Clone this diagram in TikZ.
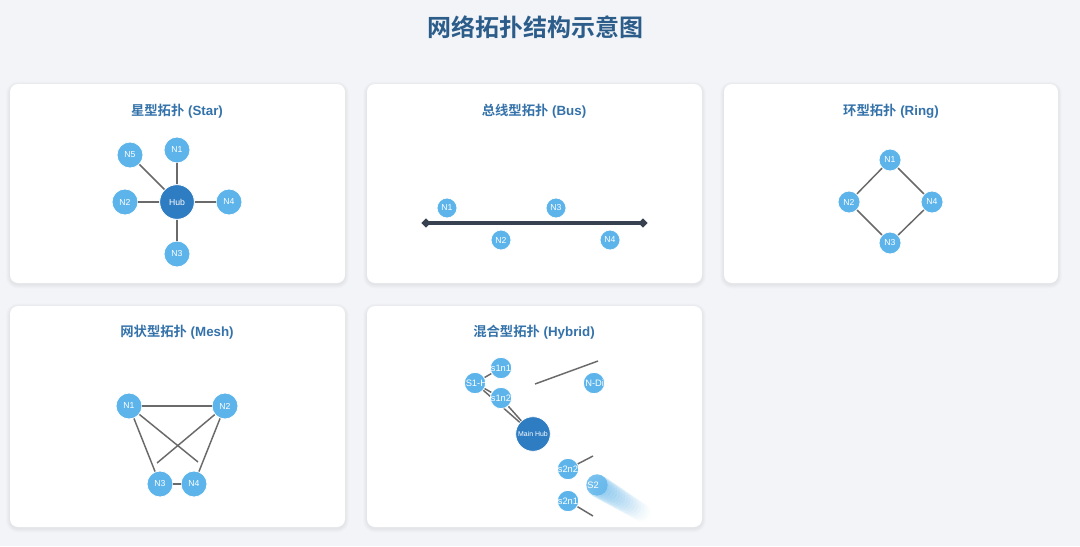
\documentclass[tikz,border=0pt]{standalone}
\usepackage{fontspec}
\setmainfont{Liberation Sans}
\newfontfamily\cjk{Noto Sans CJK SC}[BoldFont={Noto Sans CJK SC Bold}]
\usetikzlibrary{shapes.geometric}
\definecolor{bgc}{HTML}{F2F4F7}
\definecolor{titlec}{HTML}{2C5D8A}
\definecolor{ctitlec}{HTML}{3472AA}
\definecolor{nodec}{HTML}{5DB4EA}
\definecolor{hubc}{HTML}{2E7CC1}
\definecolor{edgec}{HTML}{6A6A6A}
\definecolor{busc}{HTML}{37414F}
\tikzset{
  card/.style={fill=white, rounded corners=6pt},
  ctitle/.style={text=ctitlec, font=\bfseries\fontsize{10}{12}\selectfont},
  nd/.style={circle, fill=nodec, draw=white, line width=0.6pt, text=white, inner sep=0pt, font=\fontsize{6.5}{7}\selectfont},
  nbig/.style={nd, minimum size=19.5pt},
  nsmall/.style={nd, minimum size=15pt},
  nring/.style={nd, minimum size=16.5pt},
  nhyb/.style={nd, minimum size=16pt, font=\fontsize{7}{8}\selectfont},
  hub/.style={nd, fill=hubc, minimum size=26pt},
  ed/.style={draw=edgec, line width=1.1pt},
  busend/.style={diamond, fill=busc, inner sep=0pt, minimum size=7pt},
  cliptext/.style={text=white, font=\fontsize{7}{8}\selectfont, anchor=west, inner sep=0pt}
}
\newcommand\mycard[4]{%
  \foreach \k in {1,...,5} {
    \fill[black, opacity=0.012, rounded corners={6pt+\k*0.6pt}] ({#1-\k*0.8},{#2-\k*0.8+1.5}) rectangle ({#3+\k*0.8},{#4+\k*0.8+1.5});
  }
  \path[card] (#1,#2) rectangle (#3,#4);
}
\begin{document}
\begin{tikzpicture}[x=0.75pt,y=-0.75pt]
\fill[bgc] (0,0) rectangle (1080,546);
\useasboundingbox (0,0) rectangle (1080,546);
% title
\node[text=titlec, font=\cjk\bfseries\fontsize{18}{20}\selectfont] (title) at (535,27) {网络拓扑结构示意图};
% cards
\mycard{10}{84}{345}{283}
\mycard{367}{84}{702}{283}
\mycard{724}{84}{1058}{283}
\mycard{10}{306}{345}{527}
\mycard{367}{306}{702}{527}
% card titles
\node[ctitle] (t1) at (177,111) {{\cjk 星型拓扑} (Star)};
\node[ctitle] (t2) at (534,111) {{\cjk 总线型拓扑} (Bus)};
\node[ctitle] (t3) at (891,111) {{\cjk 环型拓扑} (Ring)};
\node[ctitle] (t4) at (177,332) {{\cjk 网状型拓扑} (Mesh)};
\node[ctitle] (t5) at (534,332) {{\cjk 混合型拓扑} (Hybrid)};

% ---------- Star ----------
\node[hub] (hub) at (177,202) {Hub};
\node[nbig] (s1) at (177,150) {N1};
\node[nbig] (s2) at (125,202) {N2};
\node[nbig] (s3) at (177,254) {N3};
\node[nbig] (s4) at (229,202) {N4};
\node[nbig] (s5) at (130,155) {N5};
\draw[ed] (s1) -- (hub);
\draw[ed] (s2) -- (hub);
\draw[ed] (s3) -- (hub);
\draw[ed] (s4) -- (hub);
\draw[ed] (s5) -- (hub);

% ---------- Bus ----------
\node[busend] (be1) at (426,223) {};
\node[busend] (be2) at (643,223) {};
\draw[busc, line width=3.2pt] (be1.center) -- (be2.center);
\node[nsmall] (b1) at (447,208) {N1};
\node[nsmall] (b3) at (556,208) {N3};
\node[nsmall] (b2) at (501,240) {N2};
\node[nsmall] (b4) at (610,240) {N4};

% ---------- Ring ----------
\node[nring] (r1) at (890,160) {N1};
\node[nring] (r2) at (849,202) {N2};
\node[nring] (r4) at (932,202) {N4};
\node[nring] (r3) at (890,243) {N3};
\draw[ed] (r1) -- (r2);
\draw[ed] (r2) -- (r3);
\draw[ed] (r3) -- (r4);
\draw[ed] (r4) -- (r1);

% ---------- Mesh ----------
\node[nbig] (m1) at (129,406) {N1};
\node[nbig] (m2) at (225,406) {N2};
\node[nbig] (m3) at (160,484) {N3};
\node[nbig] (m4) at (194,484) {N4};
\coordinate (m4x) at (198,462);
\coordinate (m3x) at (157,463);
\draw[ed] (m1) -- (m2);
\draw[ed] (m1) -- (m3);
\draw[ed] (m1) -- (m4x);
\draw[ed] (m2) -- (m4);
\draw[ed] (m2) -- (m3x);
\draw[ed] (m3) -- (m4);

% ---------- Hybrid ----------
\coordinate (la) at (535,384);
\coordinate (lb) at (598,361);
\coordinate (s2a) at (593,456);
\coordinate (s2b) at (593,516);
\draw[ed] (la) -- (lb);
\node[hub, font=\fontsize{5.2}{6}\selectfont] (mh) at (533,434) {Main Hub};
\node[nhyb] (s1h) at (475,383) {};
\node[nhyb] (h11) at (501,368) {};
\node[nhyb] (h12) at (501,398) {};
\draw[ed] (s1h) -- (h11);
\draw[ed] (s1h) -- (h12);
\draw[ed] (h12) -- (mh);
\draw[ed] (s1h) -- (mh);
\node[nhyb] (h11) at (501,368) {s1n1};
\node[nhyb] (h12) at (501,398) {s1n2};
\begin{scope}
\clip (475,383) circle [radius=10.3];
\node[cliptext] (s1ht) at (465.5,383) {S1-H};
\end{scope}
\node[nhyb] (ndir) at (594,383) {};
\begin{scope}
\clip (594,383) circle [radius=10.3];
\node[cliptext] (ndirt) at (585,383) {N-Dir};
\end{scope}
\node[nhyb] (h22) at (568,469) {s2n2};
\node[nhyb] (h21) at (568,501) {s2n1};
\draw[ed] (h22) -- (s2a);
\draw[ed] (h21) -- (s2b);
% faded S2 node
\foreach \i in {0,...,16} {
  \fill[nodec, opacity={0.16*(1-\i/17)}] ({598+2.8*\i},{486+1.7*\i}) circle [radius={11.5-0.15*\i}];
}
\node[circle, fill=nodec, opacity=0.8, inner sep=0pt, minimum size=16pt] (s2h) at (597,485) {};
\begin{scope}
\clip (586,476) rectangle (601,494);
\node[cliptext] (s2t) at (587,485) {S2};
\end{scope}
\end{tikzpicture}
\end{document}
